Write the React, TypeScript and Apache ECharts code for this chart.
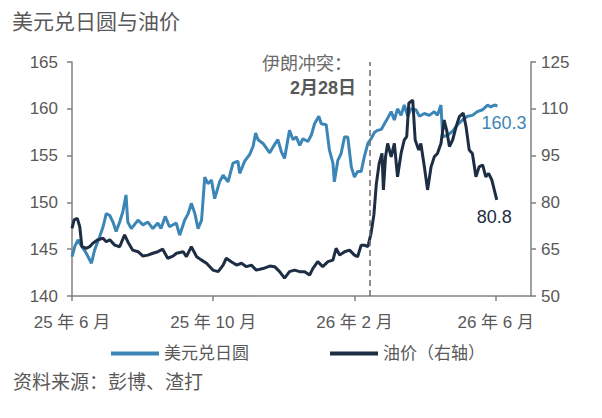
import React, { useEffect, useRef } from "react";
import * as echarts from "echarts";

// x values: months since 2025-06 (25年6月)
const usdjpyX = [0.0, 0.08, 0.17, 0.26, 0.4, 0.55, 0.64, 0.78, 0.88, 0.97, 1.07, 1.16, 1.25, 1.35, 1.44, 1.53, 1.58, 1.68, 1.87, 2.01, 2.15, 2.29, 2.43, 2.52, 2.64, 2.76, 2.95, 3.05, 3.19, 3.29, 3.38, 3.48, 3.57, 3.67, 3.76, 3.85, 3.95, 4.04, 4.18, 4.28, 4.42, 4.56, 4.7, 4.75, 4.89, 5.03, 5.13, 5.2, 5.27, 5.41, 5.6, 5.74, 5.83, 5.93, 6.02, 6.16, 6.26, 6.35, 6.45, 6.54, 6.68, 6.78, 6.87, 6.99, 7.06, 7.2, 7.29, 7.39, 7.43, 7.53, 7.62, 7.72, 7.81, 7.91, 8.0, 8.09, 8.19, 8.28, 8.38, 8.47, 8.57, 8.66, 8.76, 8.85, 8.94, 9.04, 9.13, 9.22, 9.32, 9.41, 9.51, 9.6, 9.74, 9.84, 9.98, 10.12, 10.26, 10.35, 10.45, 10.5, 10.64, 10.78, 10.92, 11.06, 11.2, 11.34, 11.48, 11.63, 11.77, 11.86, 11.96, 12.05];
const usdjpyY = [144.2, 145.3, 146.0, 145.4, 144.6, 143.5, 144.9, 146.3, 147.4, 148.8, 148.6, 147.9, 146.9, 147.9, 149.0, 150.8, 147.9, 147.2, 148.1, 147.6, 147.9, 147.2, 147.8, 147.2, 148.5, 147.4, 147.8, 146.5, 148.1, 148.8, 149.9, 148.8, 147.2, 148.1, 152.7, 152.0, 152.4, 150.4, 152.2, 152.9, 152.2, 154.2, 154.4, 153.1, 154.4, 155.1, 156.0, 157.4, 156.7, 156.3, 155.3, 156.2, 156.7, 155.4, 154.7, 157.7, 156.7, 157.0, 156.1, 156.8, 156.5, 157.2, 158.4, 159.2, 158.4, 158.3, 155.6, 154.2, 152.2, 154.5, 155.2, 157.0, 157.0, 153.8, 152.7, 153.3, 153.3, 154.9, 156.3, 156.8, 157.5, 157.7, 157.8, 158.4, 159.0, 159.7, 158.8, 160.0, 159.3, 160.4, 159.2, 160.0, 159.9, 159.2, 159.5, 159.3, 159.7, 159.3, 160.4, 157.0, 157.2, 157.6, 158.3, 158.8, 159.2, 159.3, 159.7, 159.9, 160.4, 160.2, 160.4, 160.3];

const oilX = [0.0, 0.06, 0.15, 0.22, 0.28, 0.4, 0.5, 0.59, 0.73, 0.88, 0.97, 1.07, 1.21, 1.35, 1.49, 1.58, 1.72, 1.87, 2.01, 2.15, 2.29, 2.43, 2.57, 2.71, 2.86, 2.96, 3.15, 3.24, 3.38, 3.53, 3.67, 3.81, 3.99, 4.14, 4.28, 4.37, 4.51, 4.66, 4.8, 4.94, 5.08, 5.22, 5.41, 5.6, 5.74, 5.88, 6.02, 6.16, 6.3, 6.45, 6.59, 6.73, 6.82, 6.96, 7.1, 7.25, 7.39, 7.48, 7.58, 7.72, 7.86, 8.0, 8.09, 8.19, 8.28, 8.38, 8.47, 8.55, 8.62, 8.7, 8.78, 8.82, 8.88, 8.94, 9.04, 9.13, 9.22, 9.32, 9.41, 9.48, 9.54, 9.65, 9.72, 9.82, 9.88, 9.98, 10.07, 10.17, 10.26, 10.35, 10.45, 10.54, 10.61, 10.69, 10.78, 10.88, 10.97, 11.08, 11.16, 11.25, 11.34, 11.44, 11.53, 11.63, 11.72, 11.8, 11.89, 11.96, 12.03];
const oilY = [71.7, 74.4, 74.9, 72.2, 65.8, 65.3, 65.8, 66.9, 68.0, 68.5, 67.4, 68.0, 66.3, 65.8, 69.6, 67.4, 64.7, 64.2, 62.8, 63.1, 63.7, 64.2, 65.0, 62.1, 62.8, 63.7, 64.2, 62.6, 65.8, 62.6, 61.5, 60.5, 58.3, 57.8, 59.9, 62.1, 61.0, 59.9, 60.5, 59.4, 59.9, 58.3, 58.8, 59.6, 59.4, 57.8, 55.7, 57.8, 58.3, 57.8, 57.8, 56.7, 58.8, 61.0, 59.4, 61.0, 61.5, 65.3, 63.1, 64.2, 64.7, 63.1, 62.6, 66.3, 66.3, 65.8, 70.1, 76.0, 86.0, 92.5, 95.7, 84.0, 94.6, 98.9, 94.6, 98.9, 88.2, 95.7, 100.0, 101.1, 111.8, 112.8, 100.0, 96.8, 98.9, 91.4, 84.0, 91.4, 94.6, 95.7, 98.9, 106.4, 103.2, 97.9, 100.0, 104.3, 107.5, 108.6, 104.3, 96.8, 95.7, 88.2, 91.4, 92.0, 88.2, 89.3, 87.2, 84.0, 80.8];

const xTickValues = [0, 4, 8, 12];
const xTickLabels = ["25 年 6 月", "25 年 10 月", "26 年 2 月", "26 年 6 月"];
const eventX = 8.42; // 2月28日
const seriesNames = ["美元兑日圆", "油价（右轴）"];

const BLUE = "#3b86b6";
const DARK = "#1d2d43";
const AXIS = "#808080";
const TEXT = "#595959";
const FONT = "'Liberation Sans', 'Noto Sans CJK SC', sans-serif";

export default function App() {
  const ref = useRef<HTMLDivElement>(null);
  useEffect(() => {
    if (!ref.current) return;
    const chart = echarts.init(ref.current, undefined, { renderer: "svg" });
    const jpy = usdjpyX.map((x, i) => [x, usdjpyY[i]]);
    const oil = oilX.map((x, i) => [x, oilY[i]]);
    const axisLine = { show: true, lineStyle: { color: AXIS, width: 1.5 } };
    const axisTick = { show: true, length: 5, lineStyle: { color: AXIS, width: 1.5 } };
    chart.setOption({
      animation: false,
      backgroundColor: "#ffffff",
      textStyle: { fontFamily: FONT },
      grid: { left: 72, right: 71, top: 62, bottom: 122, containLabel: false },
      legend: [
        {
          data: [seriesNames[0]],
          left: 106,
          top: 340,
          icon: "rect",
          itemWidth: 48,
          itemHeight: 4,
          textStyle: { color: TEXT, fontSize: 17, fontFamily: FONT, padding: [0, 0, 0, 0] },
        },
        {
          data: [seriesNames[1]],
          left: 325,
          top: 340,
          icon: "rect",
          itemWidth: 48,
          itemHeight: 4,
          textStyle: { color: TEXT, fontSize: 17, fontFamily: FONT, padding: [0, 0, 0, 0] },
        },
      ],
      xAxis: {
        type: "value",
        min: 0,
        max: 13,
        interval: 4,
        splitLine: { show: false },
        axisLine,
        axisTick: { ...axisTick, customValues: xTickValues },
        axisLabel: {
          customValues: xTickValues,
          formatter: (v: number) => {
            const i = xTickValues.indexOf(v);
            return i >= 0 ? xTickLabels[i] : "";
          },
          color: TEXT,
          fontSize: 17,
          margin: 18,
          fontFamily: FONT,
        },
      },
      yAxis: [
        {
          type: "value",
          min: 140,
          max: 165,
          interval: 5,
          splitLine: { show: false },
          axisLine,
          axisTick,
          axisLabel: { color: TEXT, fontSize: 17, margin: 14, fontFamily: FONT },
        },
        {
          type: "value",
          min: 50,
          max: 125,
          interval: 15,
          position: "right",
          splitLine: { show: false },
          axisLine,
          axisTick,
          axisLabel: { color: TEXT, fontSize: 17, margin: 10, fontFamily: FONT },
        },
      ],
      series: [
        {
          name: seriesNames[0],
          type: "line",
          yAxisIndex: 0,
          data: jpy,
          showSymbol: false,
          symbol: "none",
          lineStyle: { color: BLUE, width: 3 },
          itemStyle: { color: BLUE },
          z: 2,
          endLabel: {
            show: true,
            formatter: (d: any) => d.value[1].toFixed(1),
            color: BLUE,
            fontSize: 18,
            fontFamily: FONT,
            offset: [-24, 17],
          },
          markLine: {
            silent: true,
            symbol: ["none", "none"],
            label: { show: false },
            lineStyle: { color: "#6b6b6b", type: [6, 4], width: 1.5 },
            data: [{ xAxis: eventX }],
          },
        },
        {
          name: seriesNames[1],
          type: "line",
          yAxisIndex: 1,
          data: oil,
          showSymbol: false,
          symbol: "none",
          lineStyle: { color: DARK, width: 3 },
          itemStyle: { color: DARK },
          z: 3,
          endLabel: {
            show: true,
            formatter: (d: any) => d.value[1].toFixed(1),
            color: DARK,
            fontSize: 18,
            fontFamily: FONT,
            offset: [-28, 17],
          },
        },
      ],
      graphic: [
        {
          type: "text",
          left: 12,
          top: 11,
          style: { text: "美元兑日圆与油价", fill: TEXT, fontSize: 21, fontFamily: FONT },
        },
        {
          type: "text",
          right: 250,
          top: 55,
          style: { text: "伊朗冲突：", fill: "#6b6b6b", fontSize: 18, fontFamily: FONT },
        },
        {
          type: "text",
          right: 246,
          top: 79,
          style: { text: "2月28日", fill: TEXT, fontSize: 18, fontWeight: "bold", fontFamily: FONT },
        },
        {
          type: "text",
          left: 13,
          top: 373,
          style: { text: "资料来源：彭博、渣打", fill: TEXT, fontSize: 19, fontFamily: FONT },
        },
      ],
    });
    return () => chart.dispose();
  }, []);
  return (
    <div
      ref={ref}
      style={{ position: "absolute", left: 0, top: 0, width: 602, height: 418, background: "#fff" }}
    />
  );
}
